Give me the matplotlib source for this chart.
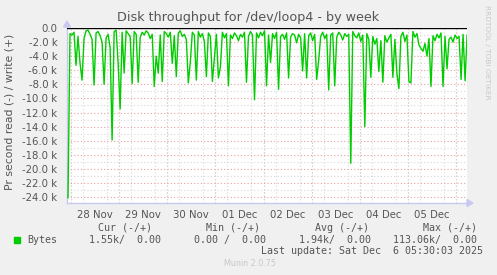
import matplotlib
matplotlib.use("Agg")
import matplotlib.pyplot as plt
import matplotlib.dates as mdates
import numpy as np
from matplotlib.ticker import MultipleLocator, FuncFormatter

# read throughput (k bytes/s), one sample per hour, shown negative (munin read side)
read_k = [
    -24.1, -0.8, -1.0, -0.6, -5.3, -1.2, -5.0, -7.4, -1.5, -0.4,
    -0.3, -0.9, -1.6, -8.1, -0.7, -0.5, -1.1, -2.0, -8.0, -1.4,
    -0.9, -2.8, -15.9, -0.5, -0.3, -5.0, -11.5, -0.6, -6.4, -0.4,
    -0.8, -1.2, -7.9, -0.5, -0.9, -7.7, -1.3, -0.6, -1.0, -0.4,
    -0.7, -1.5, -0.9, -8.3, -4.0, -6.4, -1.0, -7.6, -0.5, -0.8,
    -1.3, -0.6, -5.0, -1.1, -6.9, -0.7, -0.4, -1.2, -0.9, -1.6,
    -7.8, -4.8, -0.6, -1.0, -7.4, -0.5, -1.3, -0.8, -1.9, -6.9,
    -0.7, -1.2, -7.6, -4.3, -0.9, -7.1, -5.5, -0.6, -1.4, -0.8,
    -8.2, -1.0, -1.5, -0.7, -1.1, -1.8, -0.9, -1.3, -0.6, -7.7,
    -1.2, -0.5, -1.0, -10.2, -0.7, -1.4, -0.6, -1.1, -0.4, -8.2,
    -1.0, -4.9, -0.8, -1.5, -0.6, -8.7, -1.2, -0.9, -1.6, -0.7,
    -7.1, -1.3, -0.8, -1.0, -2.1, -0.9, -1.4, -6.1, -0.8, -7.1,
    -1.1, -0.7, -1.8, -0.9, -7.3, -4.6, -1.2, -0.6, -1.5, -0.9,
    -8.8, -1.0, -0.7, -8.2, -1.3, -0.6, -1.0, -1.7, -0.8, -1.2,
    -0.9, -19.2, -0.5, -1.1, -1.4, -0.7, -1.9, -1.0, -14.0, -0.8,
    -1.6, -7.0, -1.2, -2.3, -1.5, -6.2, -1.8, -7.7, -1.1, -2.0,
    -1.4, -0.9, -7.0, -1.6, -6.5, -8.6, -1.2, -0.6, -1.9, -1.0,
    -7.6, -7.8, -0.5, -1.3, -0.8, -2.4, -2.9, -3.3, -2.2, -4.0,
    -1.5, -8.3, -1.1, -1.8, -0.9, -1.4, -0.7, -8.3, -1.2, -5.8,
    -1.6, -1.3, -2.0, -1.0, -1.5, -1.2, -7.3, -0.9, -7.5, -1.0,
]
t_first = np.datetime64("2025-11-27T22:30")
t_start = np.datetime64("2025-11-27T22:00")
t_end = np.datetime64("2025-12-06T05:30")
times = t_first + np.arange(len(read_k)) * np.timedelta64(1, "h")
times = times.astype("datetime64[m]").astype(object)

legend_cols = ["Cur (-/+)", "Min (-/+)", "Avg (-/+)", "Max (-/+)"]
legend_vals = ["1.55k/  0.00", "0.00 /  0.00", "1.94k/  0.00", "113.06k/  0.00"]

txt = "#555555"
fig = plt.figure(figsize=(4.97, 2.75), dpi=100, facecolor="#F0F0F0")
ax = fig.add_axes([0.1348, 0.2618, 0.805, 0.6382])
ax.set_facecolor("white")

ax.plot(times, read_k, color="#00CC00", lw=1.0, zorder=3)
ax.axhline(0, color="black", lw=1.0, zorder=4)

ax.set_xlim(t_start.astype(object), t_end.astype(object))
ax.set_ylim(-24.85, 0.07)

# grid: gray dotted minor, red dotted major
ax.yaxis.set_major_locator(MultipleLocator(2))
ax.yaxis.set_minor_locator(MultipleLocator(1))
ax.yaxis.set_major_formatter(FuncFormatter(lambda v, p: "0.0" if abs(v) < 1e-9 else f"{v:.1f} k"))
ax.grid(which="minor", axis="y", color="#D8D8D8", ls=(0, (1, 2)), lw=0.8)
ax.grid(which="major", axis="y", color="#E8A0A0", ls=(0, (1, 2)), lw=0.8)

ax.xaxis.set_major_locator(mdates.HourLocator(byhour=[12]))
ax.xaxis.set_major_formatter(mdates.DateFormatter("%d %b"))
ax.xaxis.set_minor_locator(mdates.HourLocator(byhour=[0, 6, 12, 18]))
ax.grid(which="minor", axis="x", color="#D8D8D8", ls=(0, (1, 2)), lw=0.8)
for d in mdates.DayLocator().tick_values(t_start.astype(object), t_end.astype(object)):
    ax.axvline(d, color="#E8A0A0", ls=(0, (1, 2)), lw=0.8, zorder=1)

ax.tick_params(which="both", length=0, labelsize=7.3, colors=txt)
ax.tick_params(axis="y", pad=7)
ax.tick_params(axis="x", pad=5)
for s in ["top", "right"]:
    ax.spines[s].set_visible(False)
for s in ["left", "bottom"]:
    ax.spines[s].set_color("#C8C8F0")
    ax.spines[s].set_linewidth(1.0)

# axis arrows
fig.patches.append(plt.Polygon([[467 / 497, 1 - 199.5 / 275], [467 / 497, 1 - 206.5 / 275], [473 / 497, 1 - 203 / 275]],
                               closed=True, color="#C8C8F0", transform=fig.transFigure))
fig.patches.append(plt.Polygon([[63.5 / 497, 1 - 27 / 275], [70.5 / 497, 1 - 27 / 275], [67 / 497, 1 - 21 / 275]],
                               closed=True, color="#C8C8F0", transform=fig.transFigure))

fig.text(0.499, 1 - 18 / 275, "Disk throughput for /dev/loop4 - by week", ha="center", va="center",
         fontsize=9.2, color=txt)
fig.text(10 / 497, 1 - 111.5 / 275, "Pr second read (-) / write (+)", rotation=90, ha="center", va="center",
         fontsize=7.8, color=txt)
fig.text(487 / 497, 1 - 52 / 275, "RRDTOOL / TOBI OETIKER", rotation=270, ha="center", va="center",
         fontsize=5.3, color="#C8C8C8")

mono = "DejaVu Sans Mono"
col_x = [98, 206, 315, 423]
val_x = [89, 194, 299, 393]
for cx, lab in zip(col_x, legend_cols):
    fig.text(cx / 497, 1 - 228 / 275, lab, family=mono, fontsize=7.2, color=txt, ha="left", va="center")
for vx, val in zip(val_x, legend_vals):
    fig.text(vx / 497, 1 - 240 / 275, val, family=mono, fontsize=7.2, color=txt, ha="left", va="center")
fig.patches.append(plt.Rectangle((14 / 497, 1 - 243 / 275), 6 / 497, 6 / 275, color="#00CC00",
                                 transform=fig.transFigure))
fig.text(27 / 497, 1 - 240 / 275, "Bytes", family=mono, fontsize=7.2, color=txt, ha="left", va="center")
fig.text(483 / 497, 1 - 251.5 / 275, "Last update: Sat Dec  6 05:30:03 2025", family=mono, fontsize=7.2,
         color=txt, ha="right", va="center")
fig.text(250 / 497, 1 - 264 / 275, "Munin 2.0.75", fontsize=5.8, color="#C8C8C8", ha="center", va="center")

fig.savefig("out.png", dpi=100, facecolor=fig.get_facecolor())
